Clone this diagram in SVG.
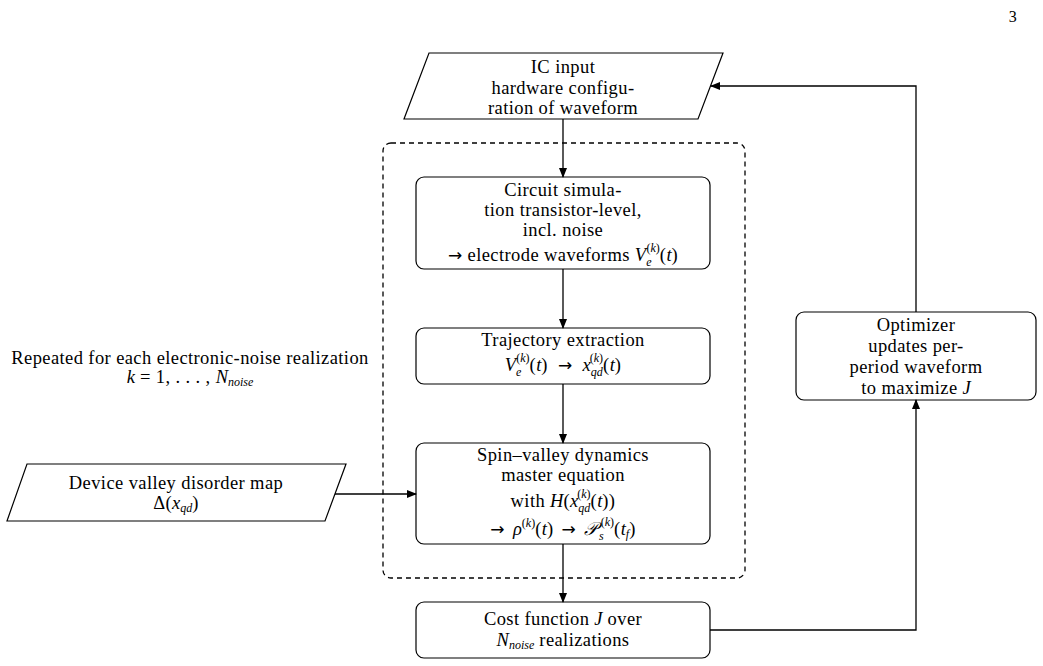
<svg xmlns="http://www.w3.org/2000/svg" width="1043" height="666" viewBox="0 0 1043 666">
<defs>
<style>
.t{font-family:"Liberation Serif","DejaVu Serif",serif;font-size:18.5px;letter-spacing:0.4px;fill:#000;text-anchor:middle}
.i{font-style:italic;letter-spacing:0}
.s{font-size:12px;letter-spacing:0}
.ar{font-family:"DejaVu Sans",sans-serif;font-size:17px}
.box{fill:#fff;stroke:#000;stroke-width:1.2}
.con{fill:none;stroke:#000;stroke-width:1.3}
.dash{fill:none;stroke:#000;stroke-width:1.3;stroke-dasharray:5,4}
</style>
<marker id="ah" markerWidth="10" markerHeight="8" refX="9" refY="4" orient="auto" markerUnits="userSpaceOnUse">
<path d="M0,0 L10,4 L0,8 Z" fill="#000"/>
</marker>
</defs>
<rect width="1043" height="666" fill="#fff"/>
<text class="t" x="1013" y="22" style="font-size:16px">3</text>

<g id="loop">
<rect class="dash" x="383" y="143" width="362" height="435" rx="8"/>
<text class="t" x="190" y="364">Repeated for each electronic-noise realization</text>
<text class="t" x="190" y="383"><tspan class="i">k</tspan> = 1, . . . , <tspan class="i">N</tspan><tspan class="s i" dy="3">noise</tspan></text>
</g>

<g id="ic-input">
<polygon class="box" points="429,53 723,53 698,119 404,119"/>
<text class="t" x="563" y="73">IC input</text>
<text class="t" x="563" y="94">hardware configu-</text>
<text class="t" x="563" y="114">ration of waveform</text>
</g>

<g id="circuit">
<rect class="box" x="416" y="177" width="294" height="92" rx="8"/>
<text class="t" x="563" y="196">Circuit simula-</text>
<text class="t" x="563" y="216">tion transistor-level,</text>
<text class="t" x="563" y="236">incl. noise</text>
<text class="t" x="563" y="261"><tspan class="ar">→</tspan> electrode waveforms <tspan class="i">V</tspan><tspan class="s i" dy="5">e</tspan><tspan class="s" dx="-5" dy="-14">(</tspan><tspan class="s i">k</tspan><tspan class="s">)</tspan><tspan dy="9">(</tspan><tspan class="i">t</tspan>)</text>
</g>

<g id="trajectory">
<rect class="box" x="416" y="328" width="294" height="56" rx="8"/>
<text class="t" x="563" y="346">Trajectory extraction</text>
<text class="t" x="563" y="371"><tspan class="i">V</tspan><tspan class="s i" dy="5">e</tspan><tspan class="s" dx="-5" dy="-14">(</tspan><tspan class="s i">k</tspan><tspan class="s">)</tspan><tspan dy="9">(</tspan><tspan class="i">t</tspan>)<tspan class="ar" dx="10">→</tspan><tspan class="i" dx="10">x</tspan><tspan class="s i" dy="5">qd</tspan><tspan class="s" dx="-13" dy="-14">(</tspan><tspan class="s i">k</tspan><tspan class="s">)</tspan><tspan dy="9">(</tspan><tspan class="i">t</tspan>)</text>
</g>

<g id="spin-valley">
<rect class="box" x="416" y="443" width="294" height="101" rx="8"/>
<text class="t" x="563" y="461">Spin–valley dynamics</text>
<text class="t" x="563" y="481">master equation</text>
<text class="t" x="563" y="507">with <tspan class="i">H</tspan>(<tspan class="i">x</tspan><tspan class="s i" dy="5">qd</tspan><tspan class="s" dx="-13" dy="-14">(</tspan><tspan class="s i">k</tspan><tspan class="s">)</tspan><tspan dy="9">(</tspan><tspan class="i">t</tspan>))</text>
<text class="t" x="563" y="535"><tspan class="ar">→</tspan><tspan class="i" dx="8">ρ</tspan><tspan class="s" dy="-8">(</tspan><tspan class="s i">k</tspan><tspan class="s">)</tspan><tspan dy="8">(</tspan><tspan class="i">t</tspan>)<tspan class="ar" dx="8">→</tspan><tspan class="i" dx="8">𝒫</tspan><tspan class="s i" dx="2" dy="5">s</tspan><tspan class="s" dx="-3" dy="-14">(</tspan><tspan class="s i">k</tspan><tspan class="s">)</tspan><tspan dy="9">(</tspan><tspan class="i">t</tspan><tspan class="s i" dy="3">f</tspan><tspan dy="-3">)</tspan></text>
</g>

<g id="cost">
<rect class="box" x="416" y="602" width="294" height="56" rx="8"/>
<text class="t" x="563" y="625">Cost function <tspan class="i">J</tspan> over</text>
<text class="t" x="563" y="646"><tspan class="i">N</tspan><tspan class="s i" dy="3">noise</tspan><tspan dy="-3"> realizations</tspan></text>
</g>

<g id="optimizer">
<rect class="box" x="796" y="312" width="240" height="88" rx="8"/>
<text class="t" x="916" y="331">Optimizer</text>
<text class="t" x="916" y="352">updates per-</text>
<text class="t" x="916" y="373">period waveform</text>
<text class="t" x="916" y="394">to maximize <tspan class="i">J</tspan></text>
</g>

<g id="disorder-map">
<polygon class="box" points="27,464 346,464 325,521 7,521"/>
<text class="t" x="176" y="489">Device valley disorder map</text>
<text class="t" x="176" y="509">Δ(<tspan class="i">x</tspan><tspan class="s i" dy="3">qd</tspan><tspan dy="-3">)</tspan></text>
</g>

<g id="connectors">
<path class="con" d="M563,119 V177" marker-end="url(#ah)"/>
<path class="con" d="M563,269 V328" marker-end="url(#ah)"/>
<path class="con" d="M563,384 V443" marker-end="url(#ah)"/>
<path class="con" d="M563,544 V602" marker-end="url(#ah)"/>
<path class="con" d="M335,494 H416" marker-end="url(#ah)"/>
<path class="con" d="M710,630 H916 V400" marker-end="url(#ah)"/>
<path class="con" d="M916,312 V86 H711" marker-end="url(#ah)"/>
</g>
</svg>
